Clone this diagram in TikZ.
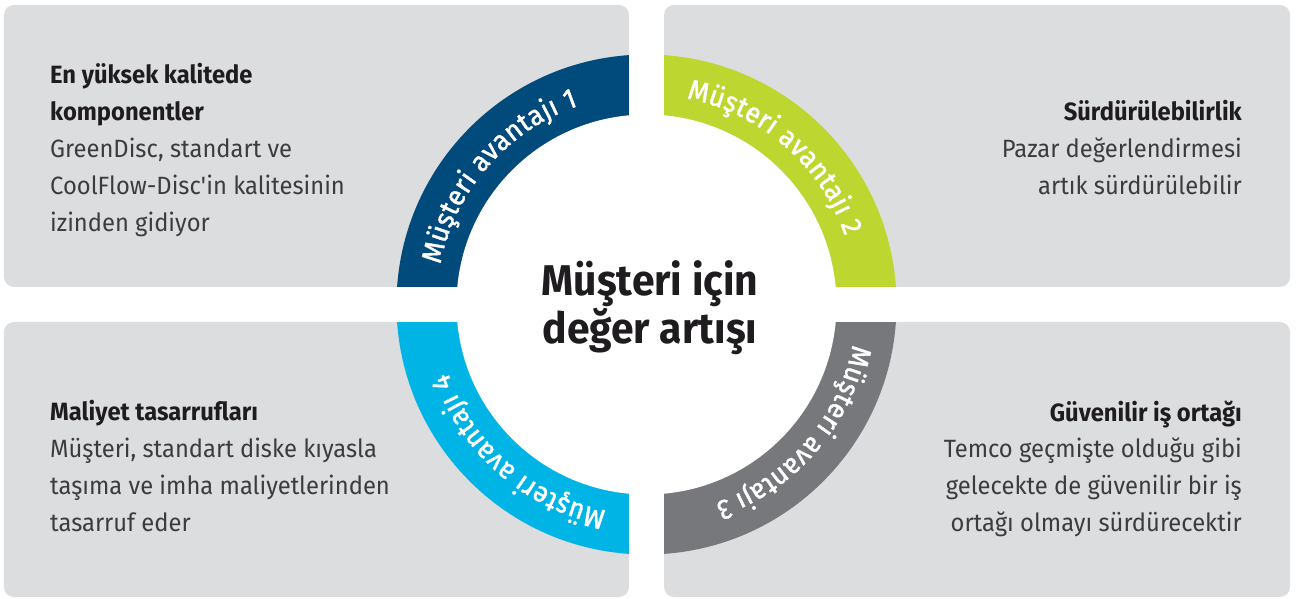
\documentclass[tikz,border=0pt]{standalone}
\usepackage{fontspec}
\setmainfont{Fira Sans}[FakeStretch=0.95]
\newfontfamily\ringfont{Fira Sans}[FakeStretch=0.95,FakeBold=1.5]
\usetikzlibrary{decorations.text}
\definecolor{panelgray}{RGB}{220,221,223}
\definecolor{advblue}{RGB}{0,74,124}
\definecolor{advgreen}{RGB}{190,214,48}
\definecolor{advgray}{RGB}{119,120,123}
\definecolor{advcyan}{RGB}{0,181,230}
\definecolor{bodytext}{RGB}{60,60,62}
\definecolor{headtext}{RGB}{30,28,30}
\newcommand{\hd}[1]{{\bfseries\color{headtext}#1}}

\begin{document}
\begin{tikzpicture}[x=1pt,y=1pt,
  panel/.style={fill=panelgray,rounded corners=10pt},
  blurb/.style={inner sep=0pt,text=bodytext,font=\fontsize{25}{36.8}\selectfont},
  ringlabel/.style={decorate,decoration={text along path,text align=fit to path,
    text={|\ringfont\fontsize{28}{30}\selectfont\color{white}|#1}}}]
\useasboundingbox (-646.5,-294.5) rectangle (654.5,304.5);
% grey panels
\fill[panel] (-642.5,17.5) rectangle (-17.5,299.5);
\fill[panel] (17.5,17.5) rectangle (643.5,299.5);
\fill[panel] (-642.5,-292.5) rectangle (-17.5,-17.5);
\fill[panel] (17.5,-292.5) rectangle (643.5,-17.5);
% ring
\fill[advblue] (0,0) -- (180:250) arc[start angle=180,end angle=90,radius=250] -- cycle;
\fill[advgreen] (0,0) -- (90:250) arc[start angle=90,end angle=0,radius=250] -- cycle;
\fill[advgray] (0,0) -- (0:250) arc[start angle=0,end angle=-90,radius=250] -- cycle;
\fill[advcyan] (0,0) -- (-90:250) arc[start angle=-90,end angle=-180,radius=250] -- cycle;
\fill[white] (0,0) circle[radius=190];
\fill[white] (-17.5,-251) rectangle (17.5,251);
\fill[white] (-251,-17.5) rectangle (251,17.5);
\path[ringlabel=Müşteri avantajı 1] (169:210) arc[start angle=169,end angle=109,radius=210];
\path[ringlabel=Müşteri avantajı 2] (79:210) arc[start angle=79,end angle=19,radius=210];
\path[ringlabel=Müşteri avantajı 3] (-11:210) arc[start angle=-11,end angle=-71,radius=210];
\path[ringlabel=Müşteri avantajı 4] (-101:210) arc[start angle=-101,end angle=-161,radius=210];
% texts
\node[align=center,inner sep=0pt,text=headtext,font=\bfseries\fontsize{43}{48}\selectfont] (value) at (3.5,-3.5) {Müşteri için\\değer artışı};
\node[blurb,align=left,anchor=north west] (quality) at (-596.5,241) {\hd{En yüksek kalitede}\\\hd{komponentler}\\GreenDisc, standart ve\\CoolFlow-Disc\textquotesingle in kalitesinin\\izinden gidiyor};
\node[blurb,align=right,anchor=north east] (sustain) at (595.5,204) {\hd{Sürdürülebilirlik}\\Pazar değerlendirmesi\\artık sürdürülebilir};
\node[blurb,align=left,anchor=north west] (savings) at (-596.5,-96) {\hd{Maliyet tasarrufları}\\Müşteri, standart diske kıyasla\\taşıma ve imha maliyetlerinden\\tasarruf eder};
\node[blurb,align=right,anchor=north east] (partner) at (595.5,-96) {\hd{Güvenilir iş ortağı}\\Temco geçmişte olduğu gibi\\gelecekte de güvenilir bir iş\\ortağı olmayı sürdürecektir};
\end{tikzpicture}
\end{document}
